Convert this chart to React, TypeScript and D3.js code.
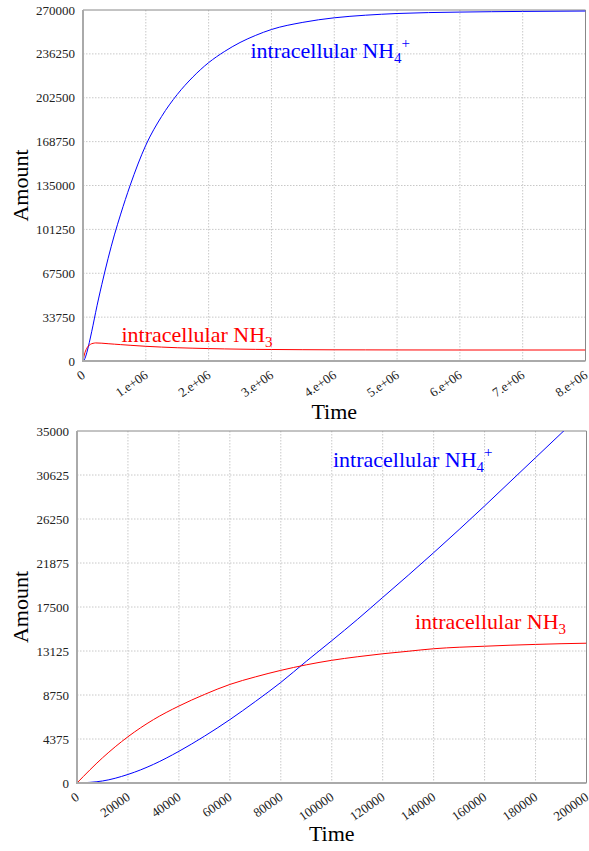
import React from "react";
import * as d3 from "d3";

// ---------- Top panel data (long time scale) ----------
const topTime = [0, 20000, 40000, 60000, 80000, 100000, 120000, 140000, 160000, 180000, 200000, 300000, 400000, 500000, 600000, 750000, 1000000, 1250000, 1500000, 1750000, 2000000, 2250000, 2500000, 2750000, 3000000, 3500000, 4000000, 4500000, 5000000, 6000000, 7000000, 8000000];
const topNH4 = [0, 850, 3150, 6300, 10000, 14100, 18450, 22900, 27550, 32350, 37150, 59000, 79000, 97000, 113000, 135000, 166000, 188000, 205000, 218500, 229500, 238000, 245000, 250500, 255000, 260500, 264000, 266000, 267300, 268400, 268900, 269200];
const topNH3 = [0, 4600, 7650, 9800, 11200, 12200, 12850, 13350, 13600, 13780, 13900, 13700, 13300, 12950, 12600, 12100, 11300, 10700, 10200, 9850, 9550, 9300, 9100, 8950, 8850, 8700, 8600, 8550, 8500, 8460, 8450, 8450];
const topXTicks = [0, 1000000, 2000000, 3000000, 4000000, 5000000, 6000000, 7000000, 8000000];
const topXTickLabels = ["0", "1.e+06", "2.e+06", "3.e+06", "4.e+06", "5.e+06", "6.e+06", "7.e+06", "8.e+06"];
const topYTicks = [0, 33750, 67500, 101250, 135000, 168750, 202500, 236250, 270000];

// ---------- Bottom panel data (short time scale) ----------
const botTime = [0, 10000, 20000, 30000, 40000, 50000, 60000, 70000, 80000, 90000, 100000, 110000, 120000, 130000, 140000, 150000, 160000, 170000, 180000, 190000, 200000];
const botNH4 = [0, 200, 850, 1850, 3150, 4650, 6300, 8100, 10000, 12100, 14150, 16250, 18450, 20650, 22900, 25200, 27550, 29950, 32350, 34750, 37150];
const botNH3 = [0, 2500, 4600, 6300, 7650, 8800, 9800, 10550, 11200, 11750, 12200, 12550, 12850, 13100, 13350, 13500, 13600, 13700, 13780, 13850, 13900];
const botXTicks = [0, 20000, 40000, 60000, 80000, 100000, 120000, 140000, 160000, 180000, 200000];
const botXTickLabels = ["0", "20000", "40000", "60000", "80000", "100000", "120000", "140000", "160000", "180000", "200000"];
const botYTicks = [0, 4375, 8750, 13125, 17500, 21875, 26250, 30625, 35000];

const SERIF = "'Liberation Serif', 'Times New Roman', Times, serif";
const BLUE = "#0000ff";
const RED = "#ff0000";

type PanelProps = {
  id: string;
  left: number; right: number; top: number; bottom: number;
  xMax: number; yMax: number;
  time: number[]; nh4: number[]; nh3: number[];
  xTicks: number[]; xTickLabels: string[]; yTicks: number[];
  nh4Label: [number, number];
  nh3Label: [number, number];
};

function Panel(p: PanelProps) {
  const x = d3.scaleLinear().domain([0, p.xMax]).range([p.left, p.right]);
  const y = d3.scaleLinear().domain([0, p.yMax]).range([p.bottom, p.top]);
  const line = d3.line<[number, number]>().x(d => x(d[0])).y(d => y(d[1])).curve(d3.curveMonotoneX);
  const nh4Path = line(p.time.map((t, i) => [t, p.nh4[i]] as [number, number])) || "";
  const nh3Path = line(p.time.map((t, i) => [t, p.nh3[i]] as [number, number])) || "";
  const clipId = `clip-${p.id}`;
  return (
    <g>
      <defs>
        <clipPath id={clipId}>
          <rect x={p.left} y={p.top} width={p.right - p.left} height={p.bottom - p.top} />
        </clipPath>
      </defs>
      {p.xTicks.slice(1, -1).map((t, i) => (
        <line key={`gx${i}`} x1={x(t)} x2={x(t)} y1={p.top} y2={p.bottom} stroke="#c8c8c8" strokeDasharray="1.5,1.5" strokeWidth={1} />
      ))}
      {p.yTicks.slice(1, -1).map((v, i) => (
        <line key={`gy${i}`} x1={p.left} x2={p.right} y1={y(v)} y2={y(v)} stroke="#c8c8c8" strokeDasharray="1.5,1.5" strokeWidth={1} />
      ))}
      <line x1={p.left} x2={p.right} y1={p.top} y2={p.top} stroke="#888" strokeWidth={1} />
      <line x1={p.right} x2={p.right} y1={p.top} y2={p.bottom} stroke="#888" strokeWidth={1} />
      <g clipPath={`url(#${clipId})`}>
        <path d={nh4Path} fill="none" stroke={BLUE} strokeWidth={1} />
        <path d={nh3Path} fill="none" stroke={RED} strokeWidth={1} />
      </g>
      <line x1={p.left} x2={p.left} y1={p.top} y2={p.bottom} stroke="#aaa" strokeWidth={2} />
      <line x1={p.left - 1} x2={p.right} y1={p.bottom} y2={p.bottom} stroke="#aaa" strokeWidth={2} />
      {p.yTicks.map((v, i) => (
        <text key={`yl${i}`} x={p.left - 8} y={y(v)} dy="0.35em" textAnchor="end" fontFamily={SERIF} fontSize={13} fill="#222">{String(v)}</text>
      ))}
      {p.xTicks.map((t, i) => (
        <text key={`xl${i}`} transform={`translate(${x(t) + 3},${p.bottom + 16}) rotate(-35)`} textAnchor="end" fontFamily={SERIF} fontSize={13} fill="#222">{p.xTickLabels[i]}</text>
      ))}
      <text transform={`translate(28,${(p.top + p.bottom) / 2}) rotate(-90)`} textAnchor="middle" fontFamily={SERIF} fontSize={22} fill="#000">Amount</text>
      <text x={(p.left + p.right) / 2} y={p.bottom + 58} textAnchor="middle" fontFamily={SERIF} fontSize={22} fill="#000">Time</text>
      <text x={p.nh4Label[0]} y={p.nh4Label[1]} fontFamily={SERIF} fontSize={22} fill={BLUE}>
        intracellular NH<tspan fontSize={15} dy={5}>4</tspan><tspan fontSize={15} dy={-15}>+</tspan>
      </text>
      <text x={p.nh3Label[0]} y={p.nh3Label[1]} fontFamily={SERIF} fontSize={22} fill={RED}>
        intracellular NH<tspan fontSize={15} dy={5}>3</tspan>
      </text>
    </g>
  );
}

export default function App() {
  return (
    <svg width={589} height={851} style={{ position: "absolute", left: 0, top: 0, background: "#fff" }}>
      <rect x={0} y={0} width={589} height={851} fill="#fff" />
      <Panel id="top" left={83} right={585.5} top={10} bottom={361} xMax={8000000} yMax={270000}
        time={topTime} nh4={topNH4} nh3={topNH3}
        xTicks={topXTicks} xTickLabels={topXTickLabels} yTicks={topYTicks}
        nh4Label={[250.5, 58]} nh3Label={[121.5, 341.5]} />
      <Panel id="bot" left={77} right={586.5} top={431} bottom={783} xMax={200000} yMax={35000}
        time={botTime} nh4={botNH4} nh3={botNH3}
        xTicks={botXTicks} xTickLabels={botXTickLabels} yTicks={botYTicks}
        nh4Label={[333, 466.5]} nh3Label={[415, 628.5]} />
    </svg>
  );
}
